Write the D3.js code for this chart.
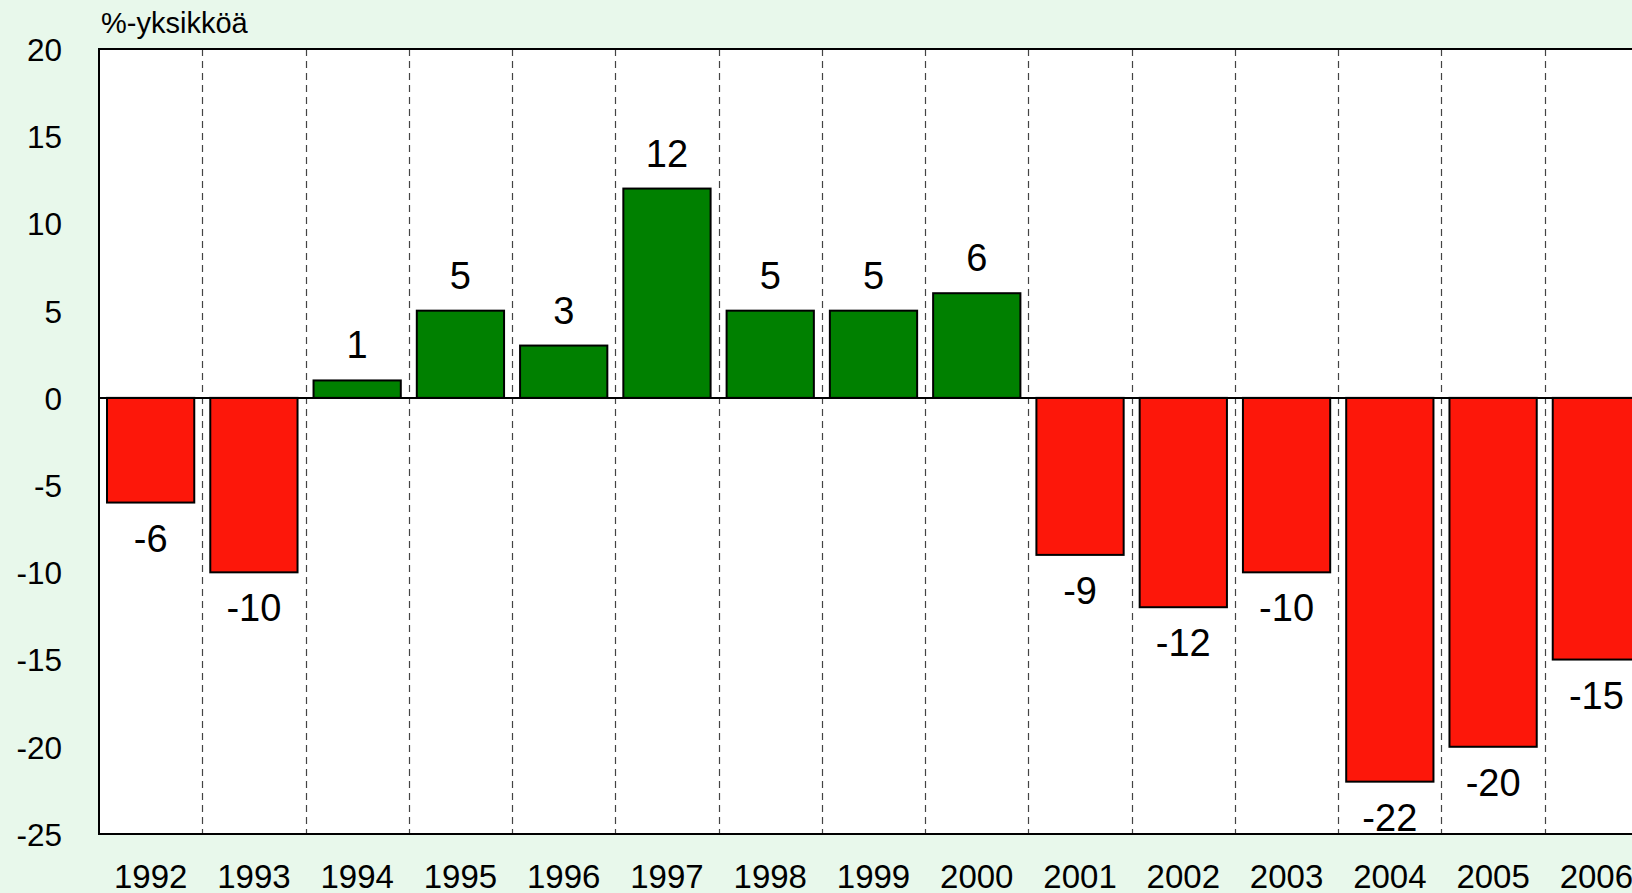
<!DOCTYPE html>
<html>
<head>
<meta charset="utf-8">
<script src="https://cdn.jsdelivr.net/npm/d3@7"></script>
<style>
  html, body { margin: 0; padding: 0; background: #e8f8eb; overflow: hidden; }
  svg { display: block; font-family: "Liberation Sans", Arial, sans-serif; }
</style>
</head>
<body>
<svg id="chart" width="1632" height="893"></svg>
<script>
// Data
const years = ["1992","1993","1994","1995","1996","1997","1998","1999","2000","2001","2002","2003","2004","2005","2006"];
const values = [-6, -10, 1, 5, 3, 12, 5, 5, 6, -9, -12, -10, -22, -20, -15];
const yTicks = [20, 15, 10, 5, 0, -5, -10, -15, -20, -25];
const unitLabel = "%-yksikköä";

const svg = d3.select("#chart");
const W = 1632, H = 893;
const plot = { left: 99, top: 49, right: 1648, bottom: 834 };

svg.append("rect").attr("width", W).attr("height", H).attr("fill", "#e8f8eb");

const x = d3.scaleBand().domain(years).range([plot.left, plot.right])
  .paddingInner(0.155).paddingOuter(0.0775);
const y = d3.scaleLinear().domain([-25, 20]).range([plot.bottom, plot.top]);

// plot area
svg.append("rect")
  .attr("x", plot.left).attr("y", plot.top)
  .attr("width", plot.right - plot.left).attr("height", plot.bottom - plot.top)
  .attr("fill", "#ffffff");

// dashed vertical separators between categories
const step = x.step();
svg.append("g").selectAll("line").data(years.slice(1)).join("line")
  .attr("x1", d => Math.round(x(d) - step * x.paddingInner() / 2) + 0.5)
  .attr("x2", d => Math.round(x(d) - step * x.paddingInner() / 2) + 0.5)
  .attr("y1", plot.top).attr("y2", plot.bottom)
  .attr("stroke", "#444").attr("stroke-width", 1.2)
  .attr("stroke-dasharray", "7,5");

// bars
svg.append("g").selectAll("rect").data(values).join("rect")
  .attr("x", (d, i) => x(years[i]))
  .attr("width", x.bandwidth())
  .attr("y", d => y(Math.max(0, d)))
  .attr("height", d => Math.abs(y(d) - y(0)))
  .attr("fill", d => d >= 0 ? "#008000" : "#fd170a")
  .attr("stroke", "#000").attr("stroke-width", 2);

// zero line
svg.append("line")
  .attr("x1", plot.left).attr("x2", plot.right)
  .attr("y1", y(0)).attr("y2", y(0))
  .attr("stroke", "#000").attr("stroke-width", 2);

// frame
svg.append("rect")
  .attr("x", plot.left).attr("y", plot.top)
  .attr("width", plot.right - plot.left).attr("height", plot.bottom - plot.top)
  .attr("fill", "none").attr("stroke", "#000").attr("stroke-width", 2);

// value labels
svg.append("g").selectAll("text").data(values).join("text")
  .attr("x", (d, i) => x(years[i]) + x.bandwidth() / 2)
  .attr("y", d => d >= 0 ? y(d) - 22 : y(d) + 49)
  .attr("text-anchor", "middle")
  .attr("font-size", 38)
  .attr("fill", "#000")
  .text(d => String(d));

// y axis (labels only)
const yAxis = d3.axisLeft(y).tickValues(yTicks).tickSize(0).tickPadding(37)
  .tickFormat(d => String(d));
const gy = svg.append("g").attr("transform", `translate(${plot.left},0)`).call(yAxis);
gy.select(".domain").remove();
gy.selectAll("text").attr("font-size", 31.5).attr("fill", "#000")
  .attr("font-family", "Liberation Sans, Arial, sans-serif").attr("dy", "0.36em");

// x axis (labels only)
const xAxis = d3.axisBottom(x).tickSize(0).tickPadding(0);
const gx = svg.append("g").attr("transform", `translate(0,${plot.bottom})`).call(xAxis);
gx.select(".domain").remove();
gx.selectAll("text").attr("font-size", 33).attr("fill", "#000")
  .attr("font-family", "Liberation Sans, Arial, sans-serif")
  .attr("y", 54).attr("dy", 0);

// unit label
svg.append("text")
  .attr("x", 101).attr("y", 33)
  .attr("font-size", 29)
  .attr("fill", "#000")
  .text(unitLabel);
</script>
</body>
</html>
